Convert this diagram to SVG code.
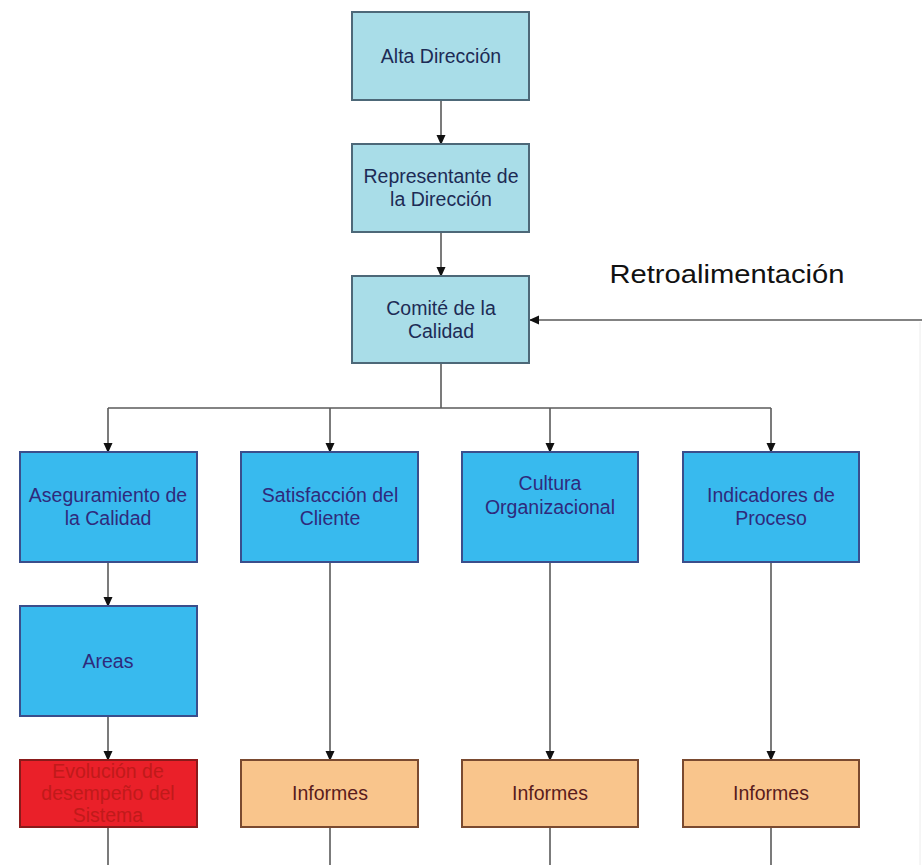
<svg xmlns="http://www.w3.org/2000/svg" width="922" height="865" viewBox="0 0 922 865">
<defs>
<marker id="ah" markerWidth="10" markerHeight="10" refX="9" refY="5" orient="auto" markerUnits="userSpaceOnUse">
<path d="M0,0.5 L10,5 L0,9.5 Z" fill="#111"/>
</marker>
<style>
.t{font-family:"Liberation Sans",Arial,sans-serif;font-size:19.5px;text-anchor:middle}
.top rect{fill:#a9dde8;stroke:#4d6878;stroke-width:2}
.top text{fill:#1d2b55}
.blue rect{fill:#38baee;stroke:#3a4e8c;stroke-width:2}
.blue text{fill:#2f2a7c}
.org rect{fill:#f9c58c;stroke:#7a4a30;stroke-width:2}
.org text{fill:#5a1c1c}
.red rect{fill:#ea2029;stroke:#8a1a1a;stroke-width:2}
.red text{fill:#c01a1a}
.c{fill:none;stroke:#5a5a5a;stroke-width:1.6}
</style>
</defs>
<rect width="922" height="865" fill="#ffffff"/>
<g id="connectors">
<line class="c" x1="441" y1="100" x2="441" y2="144" marker-end="url(#ah)"/>
<line class="c" x1="441" y1="232" x2="441" y2="276" marker-end="url(#ah)"/>
<polyline class="c" points="441,363 441,408"/>
<polyline class="c" points="108,408 771,408"/>
<line class="c" x1="108" y1="408" x2="108" y2="452" marker-end="url(#ah)"/>
<line class="c" x1="330" y1="408" x2="330" y2="452" marker-end="url(#ah)"/>
<line class="c" x1="550" y1="408" x2="550" y2="452" marker-end="url(#ah)"/>
<line class="c" x1="771" y1="408" x2="771" y2="452" marker-end="url(#ah)"/>
<line class="c" x1="108" y1="562" x2="108" y2="606" marker-end="url(#ah)"/>
<line class="c" x1="108" y1="716" x2="108" y2="760" marker-end="url(#ah)"/>
<line class="c" x1="330" y1="562" x2="330" y2="760" marker-end="url(#ah)"/>
<line class="c" x1="550" y1="562" x2="550" y2="760" marker-end="url(#ah)"/>
<line class="c" x1="771" y1="562" x2="771" y2="760" marker-end="url(#ah)"/>
<line class="c" x1="108" y1="827" x2="108" y2="865"/>
<line class="c" x1="330" y1="827" x2="330" y2="865"/>
<line class="c" x1="550" y1="827" x2="550" y2="865"/>
<line class="c" x1="771" y1="827" x2="771" y2="865"/>
<line class="c" x1="922" y1="320" x2="530" y2="320" marker-end="url(#ah)"/>
<line x1="920" y1="322" x2="920" y2="865" stroke="#ececec" stroke-width="1"/>
</g>
<g id="label-retro">
<text x="727" y="283" font-family="'Liberation Sans',Arial,sans-serif" font-size="26" fill="#111" text-anchor="middle" textLength="235" lengthAdjust="spacingAndGlyphs">Retroalimentación</text>
</g>
<g id="alta" class="top">
<rect x="352" y="12" width="177" height="88"/>
<text class="t" x="441" y="63">Alta Dirección</text>
</g>
<g id="representante" class="top">
<rect x="352" y="144" width="177" height="88"/>
<text class="t" x="441" y="183">Representante de</text>
<text class="t" x="441" y="206">la Dirección</text>
</g>
<g id="comite" class="top">
<rect x="352" y="276" width="177" height="87"/>
<text class="t" x="441" y="315">Comité de la</text>
<text class="t" x="441" y="338">Calidad</text>
</g>
<g id="aseguramiento" class="blue">
<rect x="20" y="452" width="177" height="110"/>
<text class="t" x="108" y="502">Aseguramiento de</text>
<text class="t" x="108" y="525">la Calidad</text>
</g>
<g id="satisfaccion" class="blue">
<rect x="241" y="452" width="177" height="110"/>
<text class="t" x="330" y="502">Satisfacción del</text>
<text class="t" x="330" y="525">Cliente</text>
</g>
<g id="cultura" class="blue">
<rect x="462" y="452" width="176" height="110"/>
<text class="t" x="550" y="490">Cultura</text>
<text class="t" x="550" y="514">Organizacional</text>
</g>
<g id="indicadores" class="blue">
<rect x="683" y="452" width="176" height="110"/>
<text class="t" x="771" y="502">Indicadores de</text>
<text class="t" x="771" y="525">Proceso</text>
</g>
<g id="areas" class="blue">
<rect x="20" y="606" width="177" height="110"/>
<text class="t" x="108" y="668">Areas</text>
</g>
<g id="evolucion" class="red">
<rect x="20" y="760" width="177" height="67"/>
<text class="t" x="108" y="778">Evolución de</text>
<text class="t" x="108" y="800">desempeño del</text>
<text class="t" x="108" y="822">Sistema</text>
</g>
<g id="informes1" class="org">
<rect x="241" y="760" width="177" height="67"/>
<text class="t" x="330" y="800">Informes</text>
</g>
<g id="informes2" class="org">
<rect x="462" y="760" width="176" height="67"/>
<text class="t" x="550" y="800">Informes</text>
</g>
<g id="informes3" class="org">
<rect x="683" y="760" width="176" height="67"/>
<text class="t" x="771" y="800">Informes</text>
</g>
</svg>
